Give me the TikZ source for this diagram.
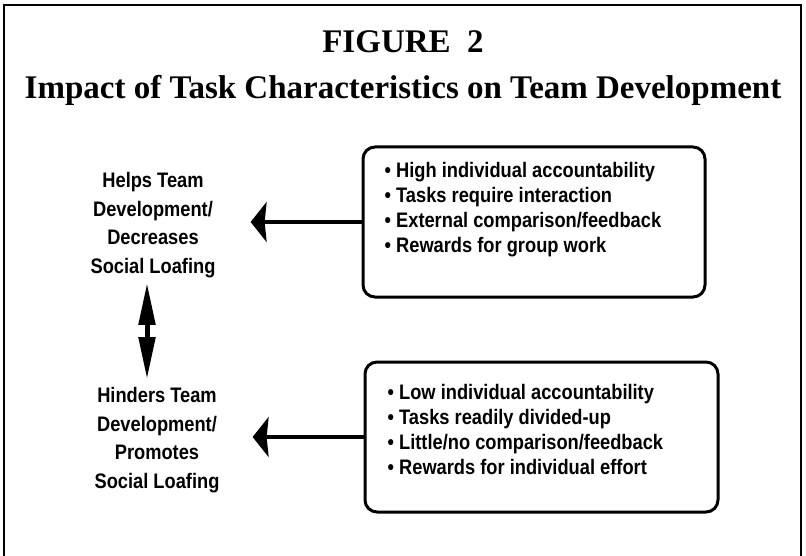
\documentclass[tikz,border=0pt]{standalone}
\usepackage{fontspec}
\setmainfont{Liberation Serif}
\newfontfamily\labelfont[FakeStretch=0.87]{Liberation Sans}
\usetikzlibrary{arrows.meta,positioning}

\begin{document}
\begin{tikzpicture}[x=1pt,y=-1pt,
  frame/.style={line width=2pt},
  listbox/.style={draw,line width=3pt,rounded corners=12pt,minimum height=150pt},
  listtext/.style={font=\labelfont\bfseries\fontsize{21}{25}\selectfont,
    align=left,inner sep=0pt,anchor=north west},
  outcome/.style={font=\labelfont\bfseries\fontsize{21}{28.5}\selectfont,
    align=center,inner sep=0pt},
  push/.style={line width=4pt,-{Stealth[length=16pt,width=40pt,inset=2pt]}},
  swing/.style={line width=5pt,
    {Triangle[length=42pt,width=16pt]}-{Triangle[length=42pt,width=16pt]}}]
\useasboundingbox (0,0) rectangle (806,556);
\draw[frame] (4,560) -- (4,5) -- (801,5) -- (801,560);
% title
\node[font=\bfseries\fontsize{33}{40}\selectfont] (fig) at (403,42) {FIGURE\ \ 2};
\node[font=\bfseries\fontsize{33}{40}\selectfont] (caption) at (403,90)
  {Impact of Task Characteristics on Team Development};
% outcomes
\node[outcome] (helps) at (153,225)
  {Helps Team\\Development/\\Decreases\\Social Loafing};
\node[outcome] (hinders) at (157,440)
  {Hinders Team\\Development/\\Promotes\\Social Loafing};
% task characteristics
\node[listbox,minimum width=342pt] (helpbox) at (534,222) {};
\node[listtext] (helplist) at ([xshift=23pt,yshift=-17pt]helpbox.north west)
  {\textbullet\ High individual accountability\\
   \textbullet\ Tasks require interaction\\
   \textbullet\ External comparison/feedback\\
   \textbullet\ Rewards for group work};
\node[listbox,minimum width=353pt] (hinderbox) at (541.5,437) {};
\node[listtext] (hinderlist) at ([xshift=24pt,yshift=-24pt]hinderbox.north west)
  {\textbullet\ Low individual accountability\\
   \textbullet\ Tasks readily divided-up\\
   \textbullet\ Little/no comparison/feedback\\
   \textbullet\ Rewards for individual effort};
% connectors
\draw[push,shorten >=35pt] (helpbox.west) -- (helpbox.west -| helps.east);
\draw[push,shorten >=33pt] (hinderbox.west) -- (hinderbox.west -| hinders.east);
\draw[swing,shorten <=5pt,shorten >=8pt]
  ([xshift=-6pt]helps.south) -- ([xshift=-10pt]hinders.north);
\end{tikzpicture}
\end{document}
